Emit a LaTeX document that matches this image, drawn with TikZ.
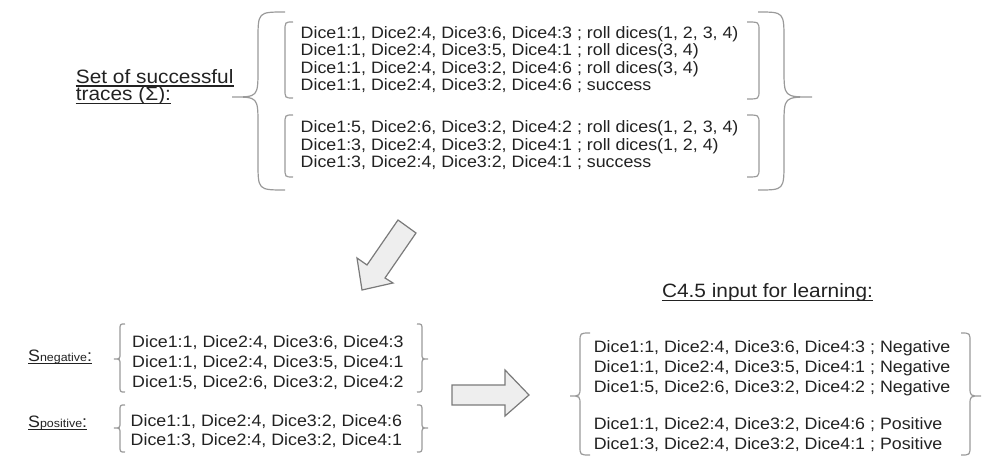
\documentclass[tikz,border=0pt]{standalone}
\usepackage{fontspec}
\setmainfont{Liberation Sans}[FakeStretch=1.08]
\definecolor{tc}{HTML}{222222}
\definecolor{bc}{HTML}{9A9A9A}
\definecolor{af}{HTML}{EEEEEE}
\definecolor{ad}{HTML}{7A7A7A}
\tikzset{
  brc/.style={draw=bc, line width=1.2pt},
  blk/.style={draw=ad, fill=af, line width=1.2pt, line join=miter},
  txt/.style={anchor=base west, inner sep=0pt, text=tc, font=\fontsize{16.5}{18}\selectfont},
  ttl/.style={anchor=base west, inner sep=0pt, text=tc, font=\fontsize{19.3}{20}\selectfont},
  ulin/.style={draw=tc, line width=1.2pt}
}
\newcommand{\drawbrace}[7]{\draw[brc] (#1,#4) .. controls (#2,#4) .. (#2,{#4+#7}) -- (#2,{#5-#7}) .. controls (#2,#5) .. (#3,#5) .. controls (#2,#5) .. (#2,{#5+#7}) -- (#2,{#6-#7}) .. controls (#2,#6) .. (#1,#6);}
\newcommand{\drawbrack}[5]{\draw[brc] (#1,#3) .. controls (#2,#3) .. (#2,{#3+#5}) -- (#2,{#4-#5}) .. controls (#2,#4) .. (#1,#4);}
\begin{document}
\begin{tikzpicture}[x=1pt, y=-1pt]
\useasboundingbox (0,0) rectangle (983,457);
% title
\node[ttl] (s1) at (75.7,83.3) {Set of successful};
\node[ttl] (s2) at (75.7,100.8) {traces (Σ):};
\draw[ulin] ([yshift=-2.8pt]s1.base west) -- ([yshift=-2.8pt]s1.base east);
\draw[ulin] ([yshift=-2.8pt]s2.base west) -- ([yshift=-2.8pt]s2.base east);
% top traces
\node[txt] (a1) at (300.5,38.3) {Dice1:1, Dice2:4, Dice3:6, Dice4:3 ; roll dices(1, 2, 3, 4)};
\node[txt] (a2) at (300.5,55.7) {Dice1:1, Dice2:4, Dice3:5, Dice4:1 ; roll dices(3, 4)};
\node[txt] (a3) at (300.5,73.1) {Dice1:1, Dice2:4, Dice3:2, Dice4:6 ; roll dices(3, 4)};
\node[txt] (a4) at (300.5,90.5) {Dice1:1, Dice2:4, Dice3:2, Dice4:6 ; success};
\node[txt] (b1) at (300.5,133) {Dice1:5, Dice2:6, Dice3:2, Dice4:2 ; roll dices(1, 2, 3, 4)};
\node[txt] (b2) at (300.5,150.4) {Dice1:3, Dice2:4, Dice3:2, Dice4:1 ; roll dices(1, 2, 4)};
\node[txt] (b3) at (300.5,167.8) {Dice1:3, Dice2:4, Dice3:2, Dice4:1 ; success};
\drawbrace{285}{258}{232}{12}{97}{190}{28}
\drawbrace{758}{784}{812}{12}{97}{190}{28}
\drawbrack{293}{285}{22}{98}{9}
\drawbrack{293}{285}{115}{177}{9}
\drawbrack{747}{759}{22}{99}{9}
\drawbrack{747}{759}{115}{177}{9}
% down-left arrow
\draw[blk] (398,220) -- (416,233) -- (385,278) -- (393,283) -- (362,290) -- (357,258) -- (367,265) -- cycle;
% S labels
\node[txt] (sn) at (28,361) {S{\fontsize{11.5}{12}\selectfont negative}:};
\node[txt] (sp) at (28,427) {S{\fontsize{11.5}{12}\selectfont positive}:};
\draw[ulin, line width=1pt] ([yshift=-2.5pt]sn.base west) -- ([yshift=-2.5pt]sn.base east);
\draw[ulin, line width=1pt] ([yshift=-2.5pt]sp.base west) -- ([yshift=-2.5pt]sp.base east);
% negative / positive sets
\node[txt] (n1) at (132,347.5) {Dice1:1, Dice2:4, Dice3:6, Dice4:3};
\node[txt] (n2) at (132,367.5) {Dice1:1, Dice2:4, Dice3:5, Dice4:1};
\node[txt] (n3) at (132,387.5) {Dice1:5, Dice2:6, Dice3:2, Dice4:2};
\node[txt] (p1) at (130.5,426) {Dice1:1, Dice2:4, Dice3:2, Dice4:6};
\node[txt] (p2) at (130.5,445) {Dice1:3, Dice2:4, Dice3:2, Dice4:1};
\drawbrace{125}{120}{114}{324}{359}{392}{6}
\drawbrace{417}{422}{428}{324}{359}{392}{6}
\drawbrace{125}{120}{114}{405}{428}{452}{6}
\drawbrace{417}{422}{428}{405}{428}{452}{6}
% right arrow
\draw[blk] (452,385) -- (505,385) -- (505,370) -- (529,395) -- (505,416) -- (505,405) -- (452,405) -- cycle;
% C4.5 input
\node[ttl, anchor=base] (c) at (767.5,298) {C4.5 input for learning:};
\draw[ulin] ([yshift=-2.8pt]c.base west) -- ([yshift=-2.8pt]c.base east);
\node[txt] (r1) at (593.6,352.5) {Dice1:1, Dice2:4, Dice3:6, Dice4:3 ; Negative};
\node[txt] (r2) at (593.6,372.5) {Dice1:1, Dice2:4, Dice3:5, Dice4:1 ; Negative};
\node[txt] (r3) at (593.6,392.5) {Dice1:5, Dice2:6, Dice3:2, Dice4:2 ; Negative};
\node[txt] (r4) at (593.6,429) {Dice1:1, Dice2:4, Dice3:2, Dice4:6 ; Positive};
\node[txt] (r5) at (593.6,449) {Dice1:3, Dice2:4, Dice3:2, Dice4:1 ; Positive};
\drawbrace{590}{580}{570}{333}{396}{455}{9}
\drawbrace{961}{970}{981}{333}{396}{455}{9}
\end{tikzpicture}
\end{document}
